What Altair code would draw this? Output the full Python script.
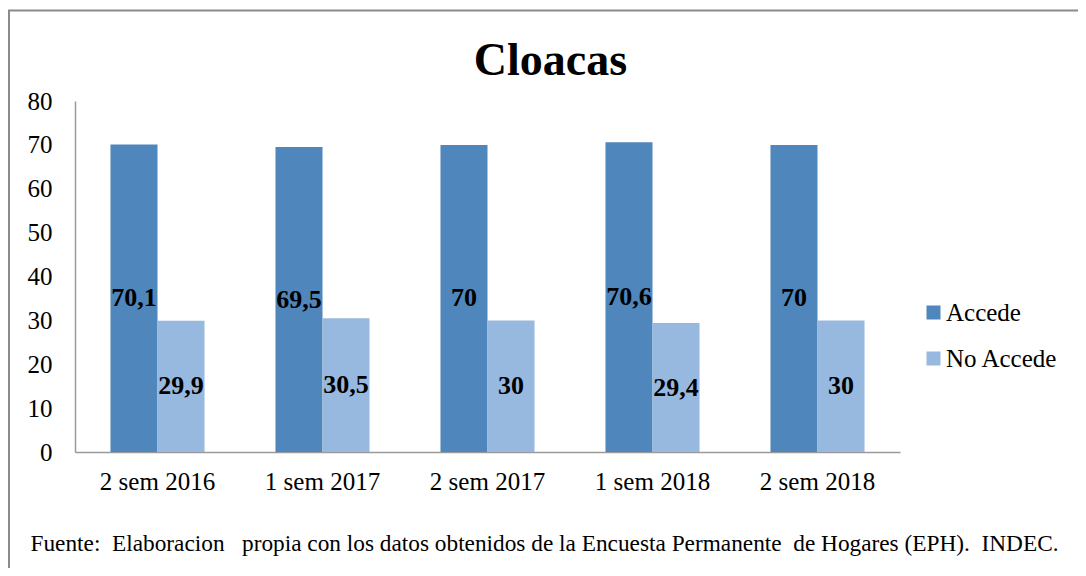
import altair as alt
import pandas as pd

periods = ["2 sem 2016", "1 sem 2017", "2 sem 2017", "1 sem 2018", "2 sem 2018"]
accede = [70.1, 69.5, 70, 70.6, 70]
no_accede = [29.9, 30.5, 30, 29.4, 30]
series = ["Accede", "No Accede"]
colors = ["#4F86BC", "#98B9DF"]
y_ticks = [0, 10, 20, 30, 40, 50, 60, 70, 80]
NB = "\u00a0"
footer = ("Fuente:" + NB + " Elaboracion" + NB + " " + NB + "propia con los datos obtenidos de la "
          "Encuesta Permanente" + NB + " de Hogares (EPH)." + NB + " INDEC.")

rows = []
for p, a, n in zip(periods, accede, no_accede):
    rows.append({"period": p, "serie": "Accede", "value": a})
    rows.append({"period": p, "serie": "No Accede", "value": n})
df = pd.DataFrame(rows)

W, H = 825, 351
FONT = "Liberation Serif"

x_enc = alt.X(
    "period:N",
    sort=periods,
    scale=alt.Scale(paddingInner=0.43, paddingOuter=0.215),
    axis=alt.Axis(
        title=footer,
        titleFont=FONT,
        titleFontSize=23.3,
        titleFontWeight="normal",
        titleColor="black",
        titleX=469,
        titleY=98,
        titleAlign="center",
        titleBaseline="alphabetic",
        labelAngle=0,
        labelPadding=17,
    ),
)
xo_enc = alt.XOffset("serie:N", sort=series)

bars = alt.Chart(df).mark_bar().encode(
    x=x_enc,
    xOffset=xo_enc,
    y=alt.Y(
        "value:Q",
        scale=alt.Scale(domain=[0, 80]),
        axis=alt.Axis(title=None, values=y_ticks, labelPadding=23),
    ),
    color=alt.Color(
        "serie:N",
        sort=series,
        scale=alt.Scale(domain=series, range=colors),
        legend=alt.Legend(
            title=None,
            orient="none",
            legendX=846,
            legendY=199,
            symbolType="square",
            symbolSize=196,
            symbolStrokeWidth=0,
            labelFont=FONT,
            labelFontSize=25,
            labelColor="black",
            labelOffset=0,
            rowPadding=20,
        ),
    ),
)

labels = alt.Chart(df).transform_calculate(
    mid="datum.value / 2",
    lab="replace(toString(datum.value), '.', ',')",
).mark_text(
    font=FONT, fontSize=26, fontWeight="bold", color="black", baseline="middle"
).encode(
    x=alt.X("period:N", sort=periods),
    xOffset=xo_enc,
    y=alt.Y("mid:Q"),
    text="lab:N",
)

border_top = alt.Chart().mark_rule(color="#8a8a8a", strokeWidth=2).encode(
    x=alt.value(-67), x2=alt.value(W + 200), y=alt.value(-90.5)
)
border_left = alt.Chart().mark_rule(color="#8a8a8a", strokeWidth=2).encode(
    x=alt.value(-66), y=alt.value(-91), y2=alt.value(H + 200)
)

chart = (
    alt.layer(bars, labels, border_top, border_left)
    .properties(
        width=W,
        height=H,
        title=alt.TitleParams(
            "Cloacas",
            font=FONT,
            fontSize=46,
            fontWeight="bold",
            color="black",
            anchor="middle",
            baseline="alphabetic",
            dx=63,
            dy=112,
            offset=0,
        ),
        autosize=alt.AutoSizeParams(type="none"),
        padding={"left": 67, "top": 93, "right": 178, "bottom": 116},
    )
    .configure(background="white")
    .configure_view(stroke=None)
    .configure_axis(
        labelFont=FONT,
        labelFontSize=25,
        labelColor="black",
        domainColor="#9a9a9a",
        domainWidth=1.5,
        ticks=False,
        grid=False,
    )
)

chart.save("out.html", embed_options={"renderer": "svg", "actions": False})
